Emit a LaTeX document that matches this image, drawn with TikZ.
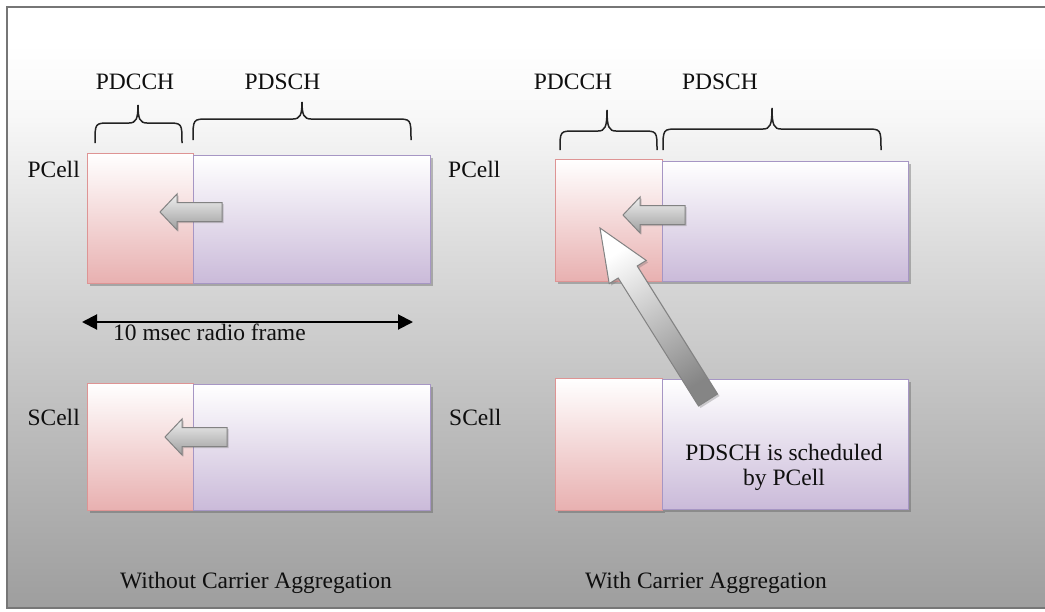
\documentclass[tikz,border=0pt]{standalone}
\usepackage{fontspec}
\setmainfont{Liberation Serif}
\usetikzlibrary{arrows.meta,shadows}

% palette
\definecolor{cchbot}{RGB}{232,176,176}
\definecolor{cchline}{RGB}{222,148,148}
\definecolor{schbot}{RGB}{202,186,217}
\definecolor{schline}{RGB}{166,150,196}
\definecolor{framegray}{RGB}{118,118,118}
\definecolor{bracegray}{RGB}{35,35,35}
\definecolor{arrowline}{RGB}{130,130,130}
\definecolor{bgA}{RGB}{158,158,158}
\definecolor{bgB}{RGB}{188,188,188}
\definecolor{bgC}{RGB}{220,220,220}
\definecolor{bgD}{RGB}{248,248,248}
\definecolor{inkcol}{RGB}{15,15,15}

% panel background: white at the top fading to mid grey at the bottom
\pgfdeclareverticalshading{panelshade}{100bp}{color(0bp)=(bgA); color(25bp)=(bgA); color(40bp)=(bgB); color(55bp)=(bgC); color(66bp)=(bgD); color(72bp)=(white); color(100bp)=(white)}

% curly brace over a channel: ends x1,x2, tip x, bottom y, flat y, tip y
\newcommand\chanbrace[6]{%
  \draw[bracestyle] ({#1},{#4}) .. controls ({#1},{#5}) and ({#1},{#5}) .. ({#1+15},{#5})
    -- ({#3-9},{#5}) .. controls ({#3-2},{#5}) and ({#3},{#5-4}) .. ({#3},{#6})
    .. controls ({#3},{#5-4}) and ({#3+2},{#5}) .. ({#3+9},{#5})
    -- ({#2-15},{#5}) .. controls ({#2},{#5}) and ({#2},{#5}) .. ({#2},{#4});}

\tikzset{
  lbl/.style={font=\fontsize{23.5pt}{25pt}\selectfont, text=inkcol, inner sep=0pt},
  boxshadow/.style={drop shadow={shadow xshift=2.5pt, shadow yshift=-2.5pt, opacity=0.35, fill=black!70}},
  cchbox/.style={draw=cchline, line width=1.2pt, top color=white, bottom color=cchbot,
    inner sep=0pt, anchor=north west, boxshadow},
  schbox/.style={draw=schline, line width=1.2pt, top color=white, bottom color=schbot,
    inner sep=0pt, anchor=north west, boxshadow},
  bracestyle/.style={draw=bracegray, line width=1.5pt},
  smallarrow/.style={draw=arrowline, line width=1pt, top color=black!6, bottom color=black!38,
    drop shadow={shadow xshift=1.5pt, shadow yshift=-1.5pt, opacity=0.3, fill=black!60}},
  bigarrow/.style={draw=arrowline, line width=1pt, top color=white, bottom color=black!48,
    shading angle=32,
    drop shadow={shadow xshift=2pt, shadow yshift=-2pt, opacity=0.3, fill=black!60}},
  pics/leftarrow/.style={code={
    \draw[smallarrow] (0,0) -- (17,-18) -- (17,-9.5) -- (62,-9.5) -- (62,9.5)
      -- (17,9.5) -- (17,18) -- cycle;}},
}

\begin{document}
\begin{tikzpicture}[x=1pt,y=-1pt]
\useasboundingbox (0,0) rectangle (1045,611);
\clip (0,0) rectangle (1045,611);
\fill[white] (0,0) rectangle (1045,611);

% panel
\shade[shading=panelshade] (7,7) rectangle (1060,608);
\draw[framegray, line width=2pt] (7,7) rectangle (1060,608);

% ---------- without carrier aggregation ----------
\node[cchbox, minimum width=106pt, minimum height=130pt] (lpcc) at (87,153) {};
\node[schbox, minimum width=237pt, minimum height=128pt] (lpsh) at (193,155) {};
\node[cchbox, minimum width=106pt, minimum height=127pt] (lscc) at (87,383) {};
\node[schbox, minimum width=237pt, minimum height=126pt] (lssh) at (193,384) {};

\chanbrace{95}{182}{138}{143}{123}{105}
\chanbrace{193}{411}{302}{140}{119}{102}
\node[lbl, anchor=base] (lcchlbl) at (135,89) {PDCCH};
\node[lbl, anchor=base] (lschlbl) at (282.5,89) {PDSCH};

\node[lbl, anchor=base east] (lpcell) at (80,177) {PCell};
\node[lbl, anchor=base east] (lscell) at (80,425) {SCell};

\pic (lparr) at (160,212) {leftarrow};
\pic (lsarr) at (165,437) {leftarrow};

\coordinate (frameL) at (82,322);
\coordinate (frameR) at (413,322);
\draw[line width=2pt, {Triangle[length=15pt,width=15pt]}-{Triangle[length=15pt,width=15pt]}] (frameL) -- (frameR);
\node[lbl, anchor=base west] (framelbl) at (113,340) {10 msec radio frame};

\node[lbl, anchor=base] (lcap) at (256,588) {Without Carrier Aggregation};

% ---------- with carrier aggregation ----------
\node[cchbox, minimum width=107pt, minimum height=122pt] (rpcc) at (555,159) {};
\node[schbox, minimum width=246pt, minimum height=120pt] (rpsh) at (662,161) {};
\node[cchbox, minimum width=107pt, minimum height=132pt] (rscc) at (555,378) {};
\node[schbox, minimum width=246pt, minimum height=130pt] (rssh) at (662,379) {};

\chanbrace{560}{657}{607}{150}{131}{110}
\chanbrace{663}{881}{772}{150}{129}{108}
\node[lbl, anchor=base] (rcchlbl) at (573,89) {PDCCH};
\node[lbl, anchor=base] (rschlbl) at (720,89) {PDSCH};

\node[lbl, anchor=base west] (rpcell) at (448,177) {PCell};
\node[lbl, anchor=base west] (rscell) at (449,425) {SCell};

\pic (rparr) at (623,215) {leftarrow};

% cross-carrier scheduling arrow from the SCell data region up to the PCell control region
\coordinate (xtip) at (600,228);
\coordinate (xtail) at (708,400);
\draw[bigarrow] (xtip) -- (646.2,260.4) -- (637.2,266.0) -- (717.5,394.0)
  -- (698.5,406.0) -- (618.2,278.0) -- (609.2,283.6) -- cycle;

\node[lbl, align=center, anchor=center] (schedlbl) at (784,467) {PDSCH is scheduled\\by PCell};

\node[lbl, anchor=base] (rcap) at (706,588) {With Carrier Aggregation};
\end{tikzpicture}
\end{document}
